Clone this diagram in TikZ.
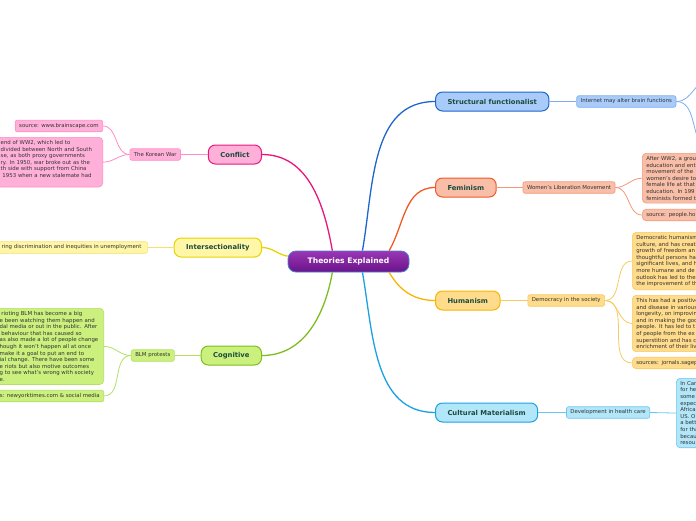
\documentclass[tikz,border=0pt]{standalone}
\usepackage{fontspec}
\setmainfont{DejaVu Sans}
\usetikzlibrary{positioning}
\definecolor{pinkline}{HTML}{E8177D}
\definecolor{pinkfill}{HTML}{FFB0D8}
\definecolor{pinkedge}{HTML}{FF8CC6}
\definecolor{yellowline}{HTML}{E8D300}
\definecolor{yellowfill}{HTML}{FFF6A8}
\definecolor{yellowedge}{HTML}{F3E36A}
\definecolor{greenline}{HTML}{7DBE1E}
\definecolor{greenfill}{HTML}{CBF07E}
\definecolor{greenedge}{HTML}{B3DF66}
\definecolor{blueline}{HTML}{1F66CC}
\definecolor{bluefill}{HTML}{A9CBFA}
\definecolor{blueedge}{HTML}{7EAEEE}
\definecolor{orangeline}{HTML}{F05A28}
\definecolor{orangefill}{HTML}{F9BEA7}
\definecolor{orangeedge}{HTML}{F3987A}
\definecolor{goldline}{HTML}{F8B400}
\definecolor{goldfill}{HTML}{FFDB8C}
\definecolor{goldedge}{HTML}{F6CA60}
\definecolor{cyanline}{HTML}{1BA1E2}
\definecolor{cyanfill}{HTML}{B2E6F9}
\definecolor{cyanedge}{HTML}{6EC6EE}
\definecolor{topictext}{HTML}{1B4B3C}
\definecolor{leaftext}{HTML}{333333}
\definecolor{titletop}{HTML}{9A36B4}
\definecolor{titlebottom}{HTML}{6A148A}
\definecolor{titleedge}{HTML}{4A80D0}

\begin{document}
\begin{tikzpicture}[x=1pt, y=-1pt, node distance=27pt,
  title/.style={draw=titleedge, top color=titletop, bottom color=titlebottom, line width=0.8pt, rounded corners=8pt, minimum width=121pt, minimum height=21pt, text=white, font=\fontsize{7.6}{9}\selectfont\bfseries},
  topic/.style={draw=#1line, fill=#1fill, line width=1pt, rounded corners=7pt, minimum height=19pt, inner xsep=12pt, text=topictext, font=\fontsize{6.8}{8}\selectfont\bfseries},
  sub/.style={draw=#1edge, fill=#1fill, line width=0.6pt, rounded corners=2pt, minimum height=11.5pt, inner xsep=4pt, inner ysep=1pt, text=leaftext, font=\fontsize{5.4}{6.6}\selectfont},
  note/.style={sub=#1, align=left, text width=100pt, inner ysep=3pt, rounded corners=4pt},
  branch/.style={draw=#1line, line width=1.3pt},
  twig/.style={draw=#1edge, line width=0.8pt}]
\useasboundingbox (0,0) rectangle (696,520);
\clip (0,0) rectangle (696,520);

% centre
\node[title] (title) at (348.5,261.5) {Theories Explained};

% left branches
\node[topic=pink, anchor=east] (conflict) at (262,154.5) {Conflict};
\node[sub=pink, left=of conflict] (korea) {The Korean War};
\node[sub=pink, anchor=east] (koreasrc) at (103,126) {source: www.brainscape.com};
\node[note=pink, anchor=north east, text width=98pt] (koreanote) at (103,137) {end of WW2, which led to\\ divided between North and South\\ se, as both proxy governments\\ ry. In 1950, war broke out as the\\ th side with support from China\\ \ 1953 when a new stalemate had\\ \mbox{}};

\node[topic=yellow, anchor=east] (intersect) at (262,247.5) {Intersectionality};
\node[sub=yellow, left=26pt of intersect, inner xsep=6pt] (inequity) {ring discrimination and inequities in unemployment};

\node[topic=green, anchor=east] (cognitive) at (262,355.5) {Cognitive};
\node[sub=green, left=26pt of cognitive] (blm) {BLM protests};
\node[note=green, anchor=north east, text width=100pt] (blmnote) at (104,308) {\ rioting BLM has become a big\\ e been watching them happen and\\ dal media or out in the public. After\\ \ behaviour that has caused so\\ as also made a lot of people change\\ hough it won't happen all at once\\ make it a goal to put an end to\\ ial change. There have been some\\ e riots but also motive outcomes\\ g to see what's wrong with society\\ e.};
\node[sub=green, anchor=east] (blmsrc) at (104,396) {s: newyorktimes.com \& social media};

% right branches
\node[topic=blue, anchor=west] (structural) at (435,101.5) {Structural functionalist};
\node[sub=blue, right=of structural] (internet) {Internet may alter brain functions};
\coordinate (netup) at (712,78);
\coordinate (netdown) at (712,150);

\node[topic=orange, anchor=west] (feminism) at (435,187.5) {Feminism};
\node[sub=orange, right=26pt of feminism] (wlm) {Women's Liberation Movement};
\node[note=orange, anchor=north west] (wlmnote) at (642,153) {After WW2, a grou\\ education and ent\\ movement of the\\ women's desire to\\ female life at that\\ education. In 199\\ feminists formed t};
\node[note=orange, anchor=west] (wlmsrc) at (642,215) {source: people.ho};

\node[topic=gold, anchor=west] (humanism) at (435,300.5) {Humanism};
\node[sub=gold, right=of humanism] (democracy) {Democracy in the society};
\node[note=gold, anchor=north west] (humnote) at (632,232) {Democratic humanism\\ culture, and has creat\\ growth of freedom an\\ thoughtful persons ha\\ significant lives, and h\\ more humane and de\\ outlook has led to the\\ the improvement of th};
\node[note=gold, anchor=north west] (humeffect) at (632,295) {This has had a positive\\ and disease in various\\ longevity, on improvin\\ and in making the goo\\ people. It has led to t\\ of people from the ex\\ superstition and has c\\ enrichment of their liv};
\node[note=gold, anchor=west] (humsrc) at (632,363) {sources: jornals.sagep};

\node[topic=cyan, anchor=west] (cultural) at (435,412.5) {Cultural Materialism};
\node[sub=cyan, right=28pt of cultural] (health) {Development in health care};
\node[note=cyan, anchor=north west] (healthnote) at (676,378) {In Can\\ for he\\ some\\ expec\\ Africa\\ US. O\\ a bett\\ for tha\\ becau\\ resou};

% main branches
\draw[branch=pink] (title.146) to[out=100,in=0] (conflict.east);
\draw[branch=yellow] (title.175) to[out=170,in=0] (intersect.east);
\draw[branch=green] (title.-146) to[out=-100,in=0] (cognitive.east);
\draw[branch=blue] (title.38) to[out=80,in=180] (structural.west);
\draw[branch=orange] (title.15) to[out=60,in=180] (feminism.west);
\draw[branch=gold] (title.-15) to[out=-60,in=180] (humanism.west);
\draw[branch=cyan] (title.-38) to[out=-80,in=180] (cultural.west);

% sub branches
\draw[twig=pink] (conflict.west) -- (korea.east);
\draw[twig=pink] (korea.west) to[out=180,in=0] (koreasrc.east);
\draw[twig=pink] (korea.west) to[out=180,in=0] (koreanote.east);
\draw[twig=yellow] (intersect.west) -- (inequity.east);
\draw[twig=green] (cognitive.west) -- (blm.east);
\draw[twig=green] (blm.west) to[out=180,in=0] (blmnote.east);
\draw[twig=green] (blm.west) to[out=180,in=0] (blmsrc.east);
\draw[twig=blue] (structural.east) -- (internet.west);
\draw[twig=blue] (internet.east) to[out=0,in=180] (netup);
\draw[twig=blue] (internet.east) to[out=0,in=180] (netdown);
\draw[twig=orange] (feminism.east) -- (wlm.west);
\draw[twig=orange] (wlm.east) to[out=0,in=180] (wlmnote.west);
\draw[twig=orange] (wlm.east) to[out=0,in=180] (wlmsrc.west);
\draw[twig=gold] (humanism.east) -- (democracy.west);
\draw[twig=gold] (democracy.east) to[out=0,in=180] (humnote.west);
\draw[twig=gold] (democracy.east) to[out=0,in=180] (humeffect.west);
\draw[twig=gold] (democracy.east) to[out=0,in=180] (humsrc.west);
\draw[twig=cyan] (cultural.east) -- (health.west);
\draw[twig=cyan] (health.east) -- (healthnote.west);
\end{tikzpicture}
\end{document}
